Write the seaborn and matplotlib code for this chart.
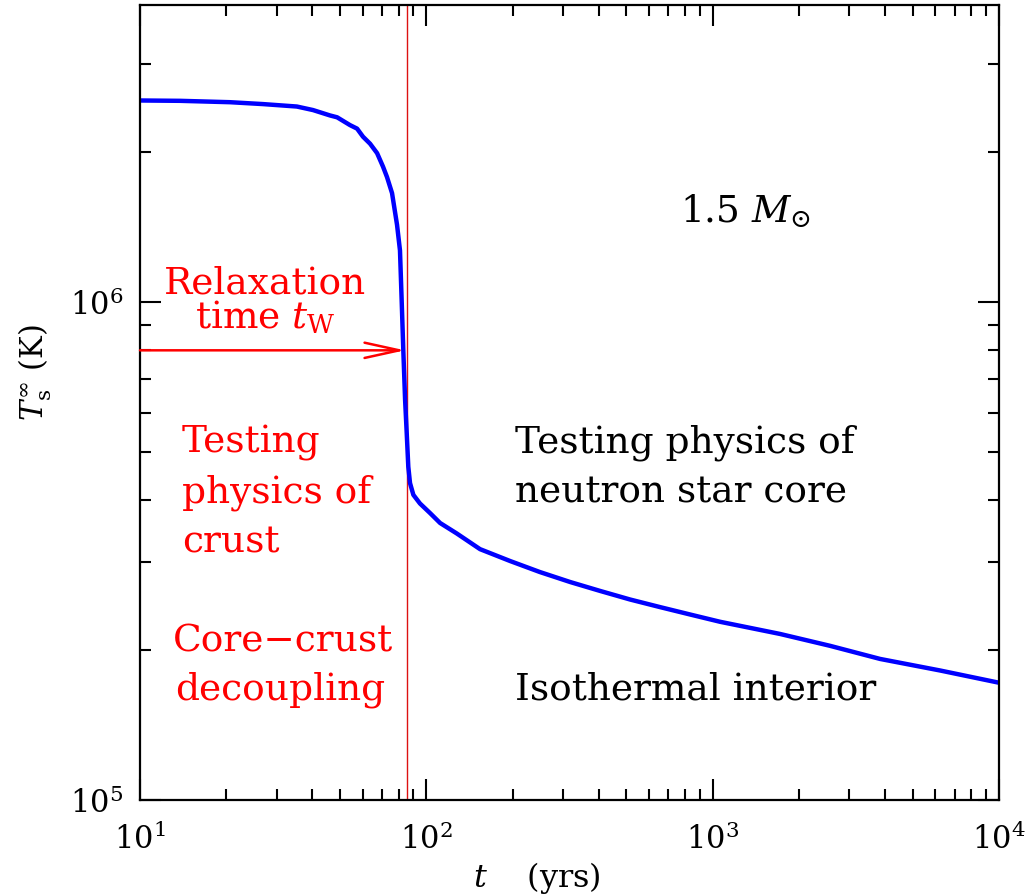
import matplotlib
matplotlib.use("Agg")
import matplotlib.pyplot as plt
import matplotlib.ticker as mticker
import seaborn as sns
import pandas as pd

# ---- data ----
t_years = [10, 13.8, 20.6, 26.9, 35.3, 40.2, 46.1, 48.8, 54.1, 57.3, 60.1, 63.6,
           67.3, 70.6, 72.9, 75.9, 79.0, 80.9, 82.0, 83.1, 84.3, 85.4, 86.5,
           87.7, 90.1, 95.0, 103, 111.7, 127.7, 154, 196, 249, 318, 404, 515,
           655, 834, 1061, 1720, 2570, 3843, 6230, 10000]
T_surface = [2.54e6, 2.536e6, 2.52e6, 2.498e6, 2.47e6, 2.43e6, 2.37e6, 2.35e6,
             2.267e6, 2.23e6, 2.148e6, 2.08e6, 1.991e6, 1.87e6, 1.782e6,
             1.655e6, 1.43e6, 1.27e6, 1.009e6, 8.0e5, 6.36e5, 5.46e5, 4.67e5,
             4.33e5, 4.10e5, 3.94e5, 3.77e5, 3.60e5, 3.43e5, 3.19e5, 3.02e5,
             2.87e5, 2.74e5, 2.63e5, 2.527e5, 2.44e5, 2.358e5, 2.28e5,
             2.155e5, 2.04e5, 1.92e5, 1.82e5, 1.72e5]
t_relax = 85.6
arrow_T = 8.0e5
arrow_tip = 84.3
x_limits = [10, 1e4]
y_limits = [1e5, 3.95e6]

sns.set_style("ticks")
plt.rcParams["font.family"] = ["DejaVu Serif"]
plt.rcParams["mathtext.fontset"] = "dejavuserif"
for k in ["text.color", "axes.labelcolor", "xtick.color", "ytick.color",
          "xtick.labelcolor", "ytick.labelcolor"]:
    plt.rcParams[k] = "black"

fig = plt.figure(figsize=(10.29, 8.96), dpi=100)
ax = fig.add_axes([140 / 1029, 1 - 800 / 896, 859 / 1029, 795 / 896])

df = pd.DataFrame({"t": t_years, "T": T_surface})
sns.lineplot(data=df, x="t", y="T", ax=ax, color="#0000ff", lw=3.2,
             sort=False, estimator=None)
ax.lines[0].set_solid_joinstyle("round")

ax.set_xscale("log")
ax.set_yscale("log")
ax.set_xlim(*x_limits)
ax.set_ylim(*y_limits)

ax.axvline(t_relax, color="#dd1111", lw=1.0, zorder=1)
ax.annotate("", xy=(arrow_tip, arrow_T), xytext=(x_limits[0], arrow_T),
            arrowprops=dict(arrowstyle="->,head_length=1.0,head_width=0.22",
                            color="#ff0000", lw=1.8, shrinkA=0, shrinkB=0,
                            mutation_scale=25))

for s in ax.spines.values():
    s.set_linewidth(1.6)
    s.set_color("black")
ax.tick_params(which="both", direction="in", top=True, right=True,
               width=1.5, color="black", labelcolor="black")
ax.tick_params(which="major", length=15, labelsize=22)
ax.tick_params(axis="x", which="major", pad=17)
ax.tick_params(axis="y", which="major", pad=12)
ax.tick_params(which="minor", length=8)
ax.xaxis.set_minor_formatter(mticker.NullFormatter())
ax.yaxis.set_minor_formatter(mticker.NullFormatter())

ax.set_xlabel(r"$t$    (yrs)", fontsize=23)
ax.set_ylabel(r"$T_{\rm s}^{\infty}$ (K)", fontsize=22)
ax.xaxis.set_label_coords(0.462, -0.076)
ax.yaxis.set_label_coords(-0.10, 0.538)

fs = 27
red = "#ff0000"
tr = ax.transAxes
ax.text(0.146, 0.5937, "Relaxation\n" + r"time $t_{\rm W}$", color=red,
        fontsize=fs, transform=tr, ha="center", va="baseline",
        multialignment="center", linespacing=0.9)
ax.text(0.0485, 0.4365, "Testing", color=red, fontsize=fs, transform=tr, va="baseline")
ax.text(0.0485, 0.3748, "physics of", color=red, fontsize=fs, transform=tr, va="baseline")
ax.text(0.0485, 0.3119, "crust", color=red, fontsize=fs, transform=tr, va="baseline")
ax.text(0.0384, 0.1862, "Core\u2212crust", color=red, fontsize=fs, transform=tr, va="baseline")
ax.text(0.0407, 0.1258, "decoupling", color=red, fontsize=fs, transform=tr, va="baseline")

ax.text(0.4366, 0.4377, "Testing physics of", color="black", fontsize=fs, transform=tr, va="baseline")
ax.text(0.4366, 0.3748, "neutron star core", color="black", fontsize=fs, transform=tr, va="baseline")
ax.text(0.4366, 0.1258, "Isothermal interior", color="black", fontsize=fs, transform=tr, va="baseline")
ax.text(0.6286, 0.727, r"1.5 $M_{\odot}$", color="black", fontsize=fs, transform=tr, va="baseline")

fig.savefig("out.png", dpi=100)
